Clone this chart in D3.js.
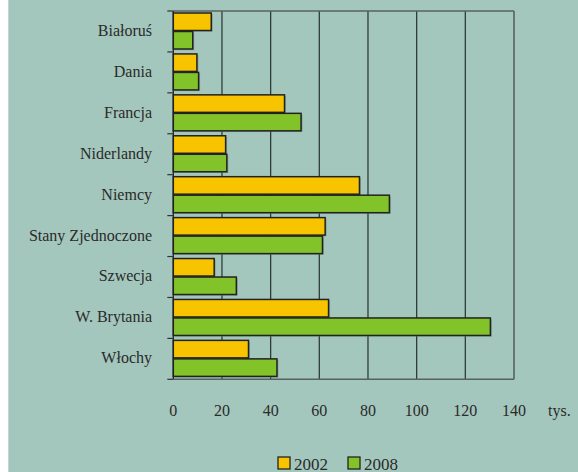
<!DOCTYPE html>
<html><head><meta charset="utf-8">
<script src="https://cdn.jsdelivr.net/npm/d3@7"></script>
</head>
<body style="margin:0;padding:0;background:#fff;">
<script>
const categories = ["Białoruś","Dania","Francja","Niderlandy","Niemcy","Stany Zjednoczone","Szwecja","W. Brytania","Włochy"];
const values2002 = [15.6, 9.7, 45.7, 21.5, 76.5, 62.4, 16.8, 63.8, 30.9];
const values2008 = [8.0, 10.4, 52.5, 22.0, 88.8, 61.3, 25.9, 130.3, 42.6];
const seriesNames = ["2002","2008"];
const xTicks = [0,20,40,60,80,100,120,140];
const unitLabel = "tys.";

(function(){
const W = 578, H = 472;
const colors = {"2002":"#f8c400","2008":"#83c32a"};
const svg = d3.select("body").append("svg").attr("width",W).attr("height",H).style("display","block");
svg.append("rect").attr("x",8.3).attr("y",0).attr("width",W-8.3).attr("height",H).attr("fill","#a4c7bd");

const pL=173.3, pR=514, pT=11, pB=379.3;
const x = d3.scaleLinear().domain([0,140]).range([pL,pR]);
const y = d3.scaleBand().domain(categories).range([pT,pB]);
const bh = y.bandwidth();

svg.append("g").selectAll("line").data(xTicks.slice(1,-1)).join("line")
  .attr("x1",d=>x(d)).attr("x2",d=>x(d)).attr("y1",pT).attr("y2",pB)
  .attr("stroke","#2f3d3a").attr("stroke-width",1.3);
svg.append("line").attr("x1",pL).attr("x2",pR).attr("y1",pT).attr("y2",pT).attr("stroke","#56635f").attr("stroke-width",1.6);
svg.append("line").attr("x1",pR).attr("x2",pR).attr("y1",pT).attr("y2",pB).attr("stroke","#56635f").attr("stroke-width",1.6);
svg.append("line").attr("x1",pL).attr("x2",pR).attr("y1",pB).attr("y2",pB).attr("stroke","#56635f").attr("stroke-width",1.6);

const data = categories.map((c,i)=>({c, v:[values2002[i], values2008[i]]}));
const g = svg.append("g");
data.forEach(d=>{
  seriesNames.forEach((s,k)=>{
    const y0 = y(d.c) + 2 + k*18.5;
    g.append("rect").attr("x",x(0)+1.5).attr("y",y0+1.2).attr("width",x(d.v[k])-x(0)).attr("height",17.5)
      .attr("fill","#6f8a83").attr("opacity",0.6);
    g.append("rect").attr("x",x(0)).attr("y",y0).attr("width",x(d.v[k])-x(0)).attr("height",17.5)
      .attr("fill",colors[s]).attr("stroke","#222").attr("stroke-width",1.5);
  });
});

svg.append("line").attr("x1",pL).attr("x2",pL).attr("y1",pT).attr("y2",pB).attr("stroke","#222").attr("stroke-width",1.3);
svg.append("g").selectAll("line").data(d3.range(categories.length+1)).join("line")
  .attr("x1",pL-6).attr("x2",pL).attr("y1",i=>pT+i*bh).attr("y2",i=>pT+i*bh)
  .attr("stroke","#333").attr("stroke-width",1.2);

// category labels: generic serif
categories.forEach(c=>{
  svg.append("text").style("font-family","serif").attr("font-size",16).attr("fill","#2a2a2a")
    .attr("x",152).attr("y",y(c)+bh/2+4.5).attr("text-anchor","end").text(c);
});
// tick labels: Times
xTicks.forEach(t=>{
  svg.append("text").style("font-family","Times").attr("font-size",16).attr("fill","#2a2a2a")
    .attr("x",x(t)).attr("y",416).attr("text-anchor","middle").text(t);
});
svg.append("text").style("font-family","Times").attr("font-size",16).attr("fill","#2a2a2a")
  .attr("x",548).attr("y",416).text(unitLabel);

const lg = [{s:"2002",x:278},{s:"2008",x:348}];
lg.forEach(l=>{
  svg.append("rect").attr("x",l.x).attr("y",457).attr("width",12).attr("height",12)
    .attr("fill",colors[l.s]).attr("stroke","#222").attr("stroke-width",1.3);
  svg.append("text").style("font-family","'Liberation Serif'").attr("font-size",17).attr("fill","#2a2a2a")
    .attr("x",l.x+16).attr("y",469.5).text(l.s);
});
})();
</script>
</body></html>
